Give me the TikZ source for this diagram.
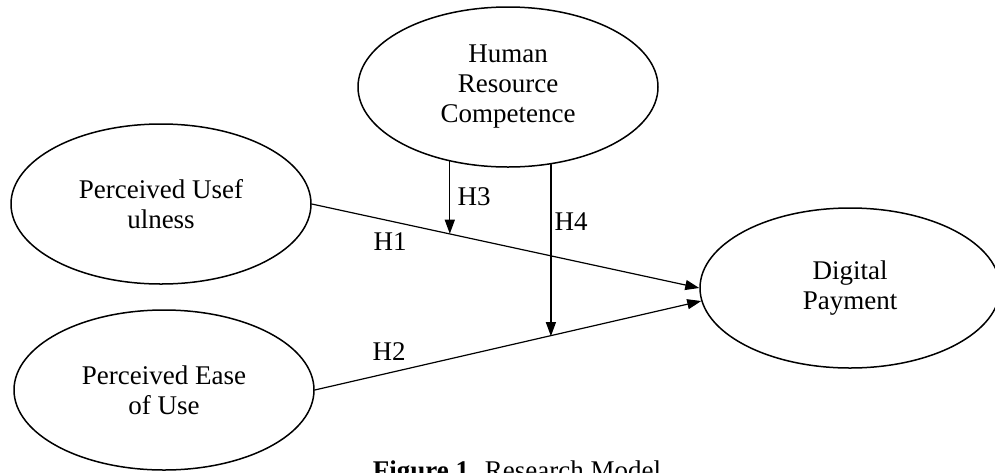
\documentclass[tikz,border=0pt]{standalone}
\usepackage{fontspec}
\setmainfont{Liberation Serif}
\usetikzlibrary{shapes.geometric,arrows.meta}
\begin{document}
\begin{tikzpicture}[x=0.5pt,y=-0.5pt,line cap=round,line join=round,
  construct/.style={ellipse,draw,line width=0.75pt,minimum width=150pt,minimum height=80pt,
    inner sep=0pt,align=center,font=\fontsize{13.5}{15}\selectfont},
  link/.style={line width=0.6pt,-{Triangle[length=7pt,width=5pt]}},
  hyp/.style={inner sep=1pt,font=\fontsize{13.5}{15}\selectfont}]
  \useasboundingbox (0,0) rectangle (995,472);
  \node[construct] (pu) at (161,204) {Perceived Usef\\ulness};
  \node[construct] (peou) at (164,390) {Perceived Ease\\of Use};
  \node[construct] (hrc) at (508,87) {Human\\Resource\\Competence};
  \node[construct] (pay) at (850,288) {Digital\\Payment};
  \draw[link] (pu.east) -- (pay.west) coordinate[pos=0.354] (m3);
  \draw[link] (peou.east) -- (pay.185) coordinate[pos=0.605] (m4);
  \draw[link] (hrc.232) -- (hrc.232 |- m3);
  \draw[link] (hrc.299) -- (hrc.299 |- m4);
  \node[hyp] (h1) at (390,242) {H1};
  \node[hyp] (h2) at (389,352) {H2};
  \node[hyp] (h3) at (474,197) {H3};
  \node[hyp] (h4) at (571,222) {H4};
  \node[font=\fontsize{13.5}{15}\selectfont,anchor=base] (cap) at (517,479) {\textbf{Figure 1.} Research Model};
\end{tikzpicture}
\end{document}
